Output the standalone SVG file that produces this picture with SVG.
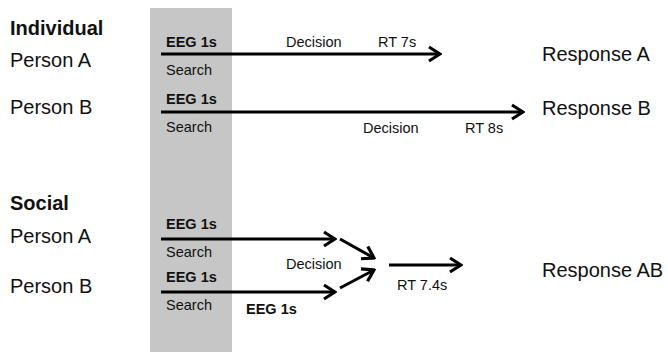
<svg xmlns="http://www.w3.org/2000/svg" width="668" height="353" viewBox="0 0 668 353">
<defs>
<style>
text{font-family:"Liberation Sans",Arial,sans-serif;fill:#111}
.big{font-size:20px}
.hd{font-size:20px;font-weight:bold}
.sm{font-size:14.5px}
.smb{font-size:14.5px;font-weight:bold}
.ln{stroke:#000;stroke-width:3;fill:none;marker-end:url(#ah)}
</style>
<marker id="ah" markerUnits="userSpaceOnUse" viewBox="0 0 15 18" markerWidth="15" markerHeight="18" refX="13" refY="9" orient="auto">
<path d="M2,2 L13,9 L2,16" fill="none" stroke="#000" stroke-width="3.2"/>
</marker>
</defs>
<rect id="band" x="150" y="8" width="82" height="344" fill="#c6c6c6"/>
<g id="individual">
<text class="hd" x="10" y="35">Individual</text>
</g>
<g id="ind-personA">
<text class="big" x="10" y="67">Person A</text>
<text class="smb" x="166" y="47">EEG 1s</text>
<text class="sm" x="166" y="75">Search</text>
<text class="sm" x="286" y="47">Decision</text>
<text class="sm" x="378" y="47">RT 7s</text>
</g>
<g id="ind-personB">
<text class="big" x="10" y="114">Person B</text>
<text class="smb" x="166" y="104">EEG 1s</text>
<text class="sm" x="166" y="132">Search</text>
<text class="sm" x="363" y="133">Decision</text>
<text class="sm" x="465" y="133">RT 8s</text>
</g>
<g id="responseA"><text class="big" x="542" y="61">Response A</text></g>
<g id="responseB"><text class="big" x="542" y="115">Response B</text></g>
<g id="social">
<text class="hd" x="10" y="210">Social</text>
</g>
<g id="soc-personA">
<text class="big" x="10" y="243">Person A</text>
<text class="smb" x="166" y="229">EEG 1s</text>
<text class="sm" x="166" y="257">Search</text>
</g>
<g id="soc-personB">
<text class="big" x="10" y="293">Person B</text>
<text class="smb" x="166" y="282">EEG 1s</text>
<text class="sm" x="166" y="310">Search</text>
<text class="smb" x="246" y="314">EEG 1s</text>
</g>
<g id="soc-decision">
<text class="sm" x="286" y="269">Decision</text>
<text class="sm" x="397" y="290">RT 7.4s</text>
</g>
<g id="responseAB"><text class="big" x="542" y="277">Response AB</text></g>
<g id="connectors">
<line class="ln" x1="161" y1="54" x2="440" y2="54"/>
<line class="ln" x1="161" y1="112" x2="523" y2="112"/>
<line class="ln" x1="161" y1="239" x2="335" y2="239"/>
<line class="ln" x1="161" y1="292" x2="335" y2="292"/>
<line class="ln" x1="340" y1="239" x2="374" y2="258"/>
<line class="ln" x1="340" y1="288" x2="374" y2="270"/>
<line class="ln" x1="389" y1="265" x2="461" y2="265"/>
</g>
</svg>
